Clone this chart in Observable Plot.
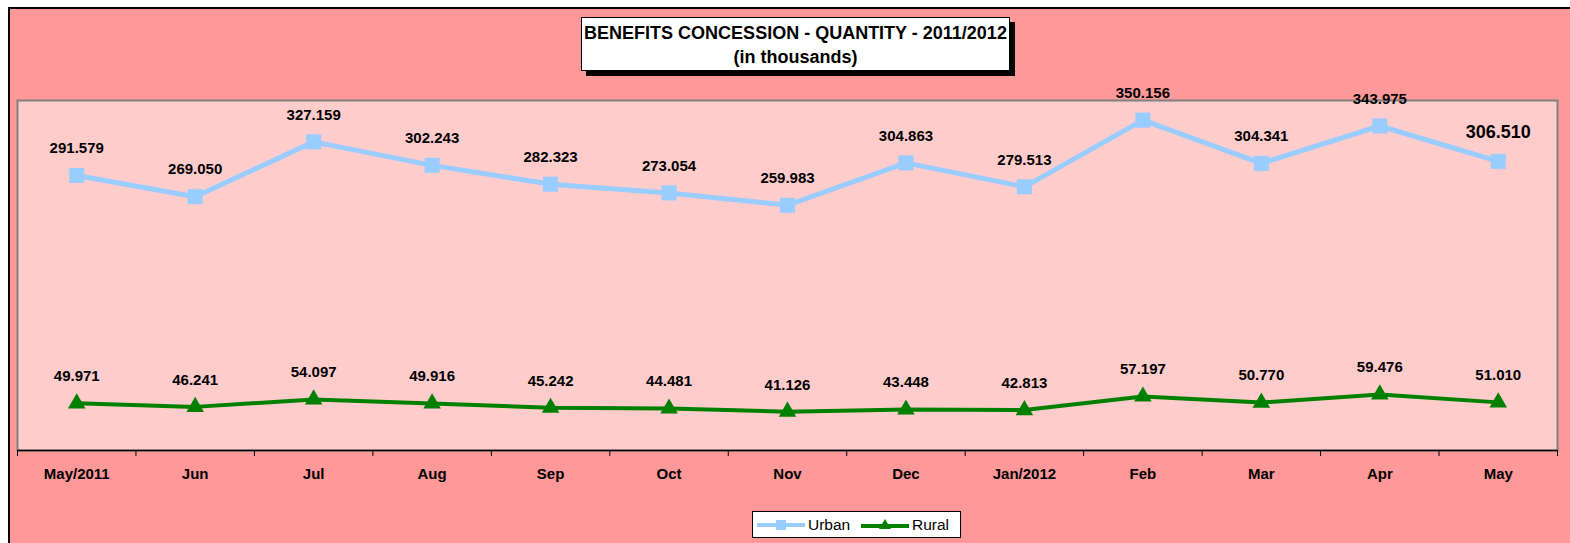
<!DOCTYPE html>
<html>
<head>
<meta charset="utf-8">
<script src="https://cdn.jsdelivr.net/npm/d3@7"></script>
<script src="https://cdn.jsdelivr.net/npm/@observablehq/plot@0.6"></script>
<style>
  html, body { margin: 0; padding: 0; background: #ffffff; }
  body { width: 1570px; height: 543px; position: relative; overflow: hidden; font-family: "Liberation Sans", Arial, sans-serif; }
  #frame { position: absolute; left: 8px; top: 7px; width: 1570px; height: 560px; background: #FF9999; border-left: 2px solid #000; border-top: 2px solid #000; }
  #chart { position: absolute; left: 0; top: 0; }
  #title { position: absolute; left: 581px; top: 17px; width: 429px; height: 54px; background: #fff; border: 1px solid #000; box-shadow: 5px 5px 0 #000; text-align: center; font-weight: bold; font-size: 18px; line-height: 24px; padding-top: 3px; box-sizing: border-box; color: #000; }
  #legend { position: absolute; left: 752px; top: 511px; width: 209px; height: 27px; background: #fff; border: 1px solid #000; box-sizing: border-box; font-size: 15.5px; color: #000; }
  #legend .item { position: absolute; top: 0; height: 25px; display: flex; align-items: center; }
  #legend svg { display: block; }
</style>
</head>
<body>
<div id="frame"></div>
<div id="chart"></div>
<div id="title">BENEFITS CONCESSION - QUANTITY - 2011/2012<br>(in thousands)</div>
<div id="legend">
  <div class="item" style="left:4px">
    <svg width="48" height="14"><line x1="0" y1="7" x2="48" y2="7" stroke="#99CCFF" stroke-width="4"/><rect x="19" y="2" width="10" height="10" fill="#99CCFF"/></svg>
    <span style="margin-left:3px">Urban</span>
  </div>
  <div class="item" style="left:108px">
    <svg width="48" height="14"><line x1="0" y1="8" x2="48" y2="8" stroke="#008000" stroke-width="4"/><path d="M24,1 L30,11 L18,11 Z" fill="#008000"/></svg>
    <span style="margin-left:3px">Rural</span>
  </div>
</div>
<script>
const months = ["May/2011", "Jun", "Jul", "Aug", "Sep", "Oct", "Nov", "Dec", "Jan/2012", "Feb", "Mar", "Apr", "May"];
const urban = [291.579, 269.050, 327.159, 302.243, 282.323, 273.054, 259.983, 304.863, 279.513, 350.156, 304.341, 343.975, 306.510];
const rural = [49.971, 46.241, 54.097, 49.916, 45.242, 44.481, 41.126, 43.448, 42.813, 57.197, 50.770, 59.476, 51.010];

const table = months.map((m, i) => ({i, month: m, urban: urban[i], rural: rural[i]}));
const fmt = d3.format(".3f");
const boundaries = months.map((_, i) => i - 0.5).concat([months.length - 0.5]);
const last = table.length - 1;

const chart = Plot.plot({
  width: 1570,
  height: 543,
  marginLeft: 17,
  marginRight: 13,
  marginTop: 100,
  marginBottom: 93,
  style: {background: "transparent", fontFamily: "'Liberation Sans', Arial, sans-serif", color: "#000", overflow: "visible"},
  x: {type: "linear", domain: [-0.5, months.length - 0.5], label: null},
  y: {domain: [0, 371], axis: null},
  marks: [
    Plot.frame({fill: "#FFCCCC", stroke: "#808080", strokeWidth: 2}),
    Plot.axisX({ticks: boundaries, tickSize: 6, tickFormat: () => "", stroke: "#000", label: null}),
    Plot.axisX({ticks: months.map((_, i) => i), tickSize: 0, tickPadding: 18, tickFormat: i => months[i], fontWeight: "bold", fontSize: 15, fill: "#000", label: null}),
    Plot.ruleY([0], {stroke: "#000", strokeWidth: 1.5}),
    Plot.line(table, {x: "i", y: "urban", stroke: "#99CCFF", strokeWidth: 5}),
    Plot.dot(table, {x: "i", y: "urban", symbol: "square", r: 8.5, fill: "#99CCFF"}),
    Plot.line(table, {x: "i", y: "rural", stroke: "#008000", strokeWidth: 4}),
    Plot.dot(table, {x: "i", y: "rural", symbol: "triangle", r: 6.5, fill: "#008000"}),
    Plot.text(table.slice(0, last), {x: "i", y: "urban", text: d => fmt(d.urban), dy: -27, fontWeight: "bold", fontSize: 15, fill: "#000"}),
    Plot.text(table.slice(last), {x: "i", y: "urban", text: d => fmt(d.urban), dy: -29, fontWeight: "bold", fontSize: 18, fill: "#000"}),
    Plot.text(table, {x: "i", y: "rural", text: d => fmt(d.rural), dy: -27, fontWeight: "bold", fontSize: 15, fill: "#000"})
  ]
});
document.getElementById("chart").appendChild(chart);
</script>
</body>
</html>
